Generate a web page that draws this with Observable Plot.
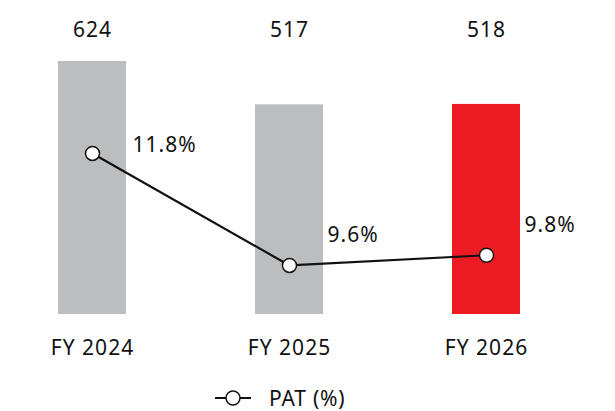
<!DOCTYPE html>
<html>
<head>
<meta charset="utf-8">
<script src="https://cdn.jsdelivr.net/npm/d3@7"></script>
<script src="https://cdn.jsdelivr.net/npm/@observablehq/plot@0.6"></script>
<style>
  body { margin: 0; background: #fff; font-family: "Noto Sans", sans-serif; }
  #wrap { position: relative; width: 615px; height: 411px; }
  #legend { position: absolute; left: 213px; top: 384px; display: flex; align-items: center; font-size: 21px; letter-spacing: 0.8px; color: #111; }
  #legend svg { margin-right: 16px; }
</style>
</head>
<body>
<div id="wrap">
  <div id="chart"></div>
  <div id="legend">
    <svg width="40" height="20"><line x1="2" x2="38" y1="10" y2="10" stroke="#111" stroke-width="2.2"/><circle cx="20" cy="10" r="7" fill="#fff" stroke="#111" stroke-width="1.5"/></svg>
    <span>PAT (%)</span>
  </div>
</div>
<script>
const categories = ["FY 2024", "FY 2025", "FY 2026"];
const revenue = [624, 517, 518];
const pat = [11.8, 9.6, 9.8];
const barColors = ["#bcbdbf", "#bcbdbf", "#ed1c24"];

const data = categories.map((c, i) => ({cat: c, rev: revenue[i], pat: pat[i], color: barColors[i], i}));

// secondary axis for PAT (%) mapped into the bar value domain
const patToY = d3.scaleLinear([9, 12], [45.6, 422.3]);

const chart = Plot.plot({
  width: 615,
  height: 370,
  marginLeft: 57,
  marginRight: 95,
  marginTop: 22,
  marginBottom: 56,
  style: {fontFamily: "Noto Sans, sans-serif", fontSize: "21px", color: "#111", letterSpacing: "1px"},
  x: {domain: categories, paddingInner: 0.657, paddingOuter: 0, label: null},
  y: {domain: [0, 720], axis: null},
  marks: [
    Plot.barY(data, {x: "cat", y: "rev", fill: "color"}),
    Plot.axisX({tickSize: 0, tickPadding: 26, fontSize: 21, label: null}),
    Plot.text(data, {x: "cat", text: d => String(d.rev), frameAnchor: "top", fontSize: 21, fill: "#111"}),
    Plot.line(data, {x: "cat", y: d => patToY(d.pat), stroke: "#111", strokeWidth: 2.2}),
    Plot.dot(data, {x: "cat", y: d => patToY(d.pat), r: 7, fill: "#fff", stroke: "#111", strokeWidth: 1.5}),
    Plot.text(data.filter(d => d.i === 0), {x: "cat", y: d => patToY(d.pat), text: d => d.pat.toFixed(1) + "%", textAnchor: "start", dx: 40, dy: -8, fontSize: 21, fill: "#111"}),
    Plot.text(data.filter(d => d.i > 0), {x: "cat", y: d => patToY(d.pat), text: d => d.pat.toFixed(1) + "%", textAnchor: "start", dx: 38, dy: -30, fontSize: 21, fill: "#111"})
  ]
});
document.getElementById("chart").appendChild(chart);
</script>
</body>
</html>
